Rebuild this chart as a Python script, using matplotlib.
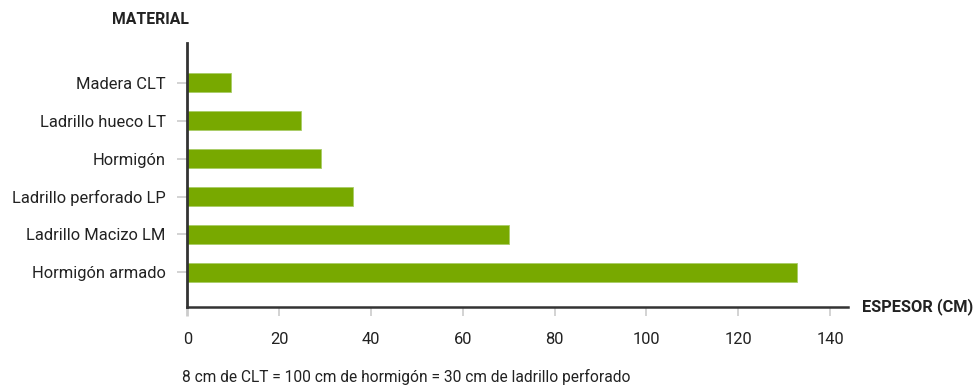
import matplotlib
matplotlib.use("Agg")
import matplotlib.pyplot as plt

# Thickness of wall needed per material (cm)
materials = ["Madera CLT", "Ladrillo hueco LT", "Hormigón",
             "Ladrillo perforado LP", "Ladrillo Macizo LM", "Hormigón armado"]
thickness = [9.5, 24.7, 29.1, 36.0, 70.1, 132.8]
x_ticks = [0, 20, 40, 60, 80, 100, 120, 140]

plt.rcParams["font.family"] = ["Roboto", "DejaVu Sans"]
TEXT = "#222222"
GREEN = "#78a900"

fig = plt.figure(figsize=(9.76, 3.86), dpi=100)
ax = fig.add_axes([0.1919, 0.2039, 0.677, 0.6847])

pos = list(range(len(materials)))
ax.barh(pos, thickness, height=0.51, color=GREEN, edgecolor="#a9cc66", linewidth=0.6)

ax.set_ylim(5.92, -1.05)
ax.set_xlim(0, 143.9)

ax.set_yticks(pos)
ax.set_yticklabels(materials, fontsize=11.9, color=TEXT)
ax.set_xticks(x_ticks)
ax.set_xticklabels([str(t) for t in x_ticks], fontsize=11.9, color=TEXT)

ax.tick_params(axis="y", length=7, width=1.2, color="#cccccc", pad=8.5)
ax.tick_params(axis="x", length=6.5, width=1.2, color="#cccccc", pad=11)
# the zero tick continues the vertical axis line
t0 = ax.xaxis.get_major_ticks()[0]
t0.tick1line.set_color("#333333")
t0.tick1line.set_markeredgewidth(2)

for side in ("top", "right"):
    ax.spines[side].set_visible(False)
ax.spines["left"].set_color("#333333")
ax.spines["left"].set_linewidth(2)
ax.spines["bottom"].set_color("#333333")
ax.spines["bottom"].set_linewidth(1.8)

fig.text(150.5 / 976, 1 - 19 / 386, "MATERIAL", ha="center", va="center",
         fontsize=11.3, fontweight="bold", color=TEXT)
fig.text(862 / 976, 1 - 307 / 386, "ESPESOR (CM)", ha="left", va="center",
         fontsize=11.8, fontweight="bold", color=TEXT)
fig.text(182 / 976, 1 - 377 / 386,
         "8 cm de CLT = 100 cm de hormigón = 30 cm de ladrillo perforado",
         ha="left", va="center", fontsize=11.2, color=TEXT)

fig.savefig("out.png", dpi=100)
